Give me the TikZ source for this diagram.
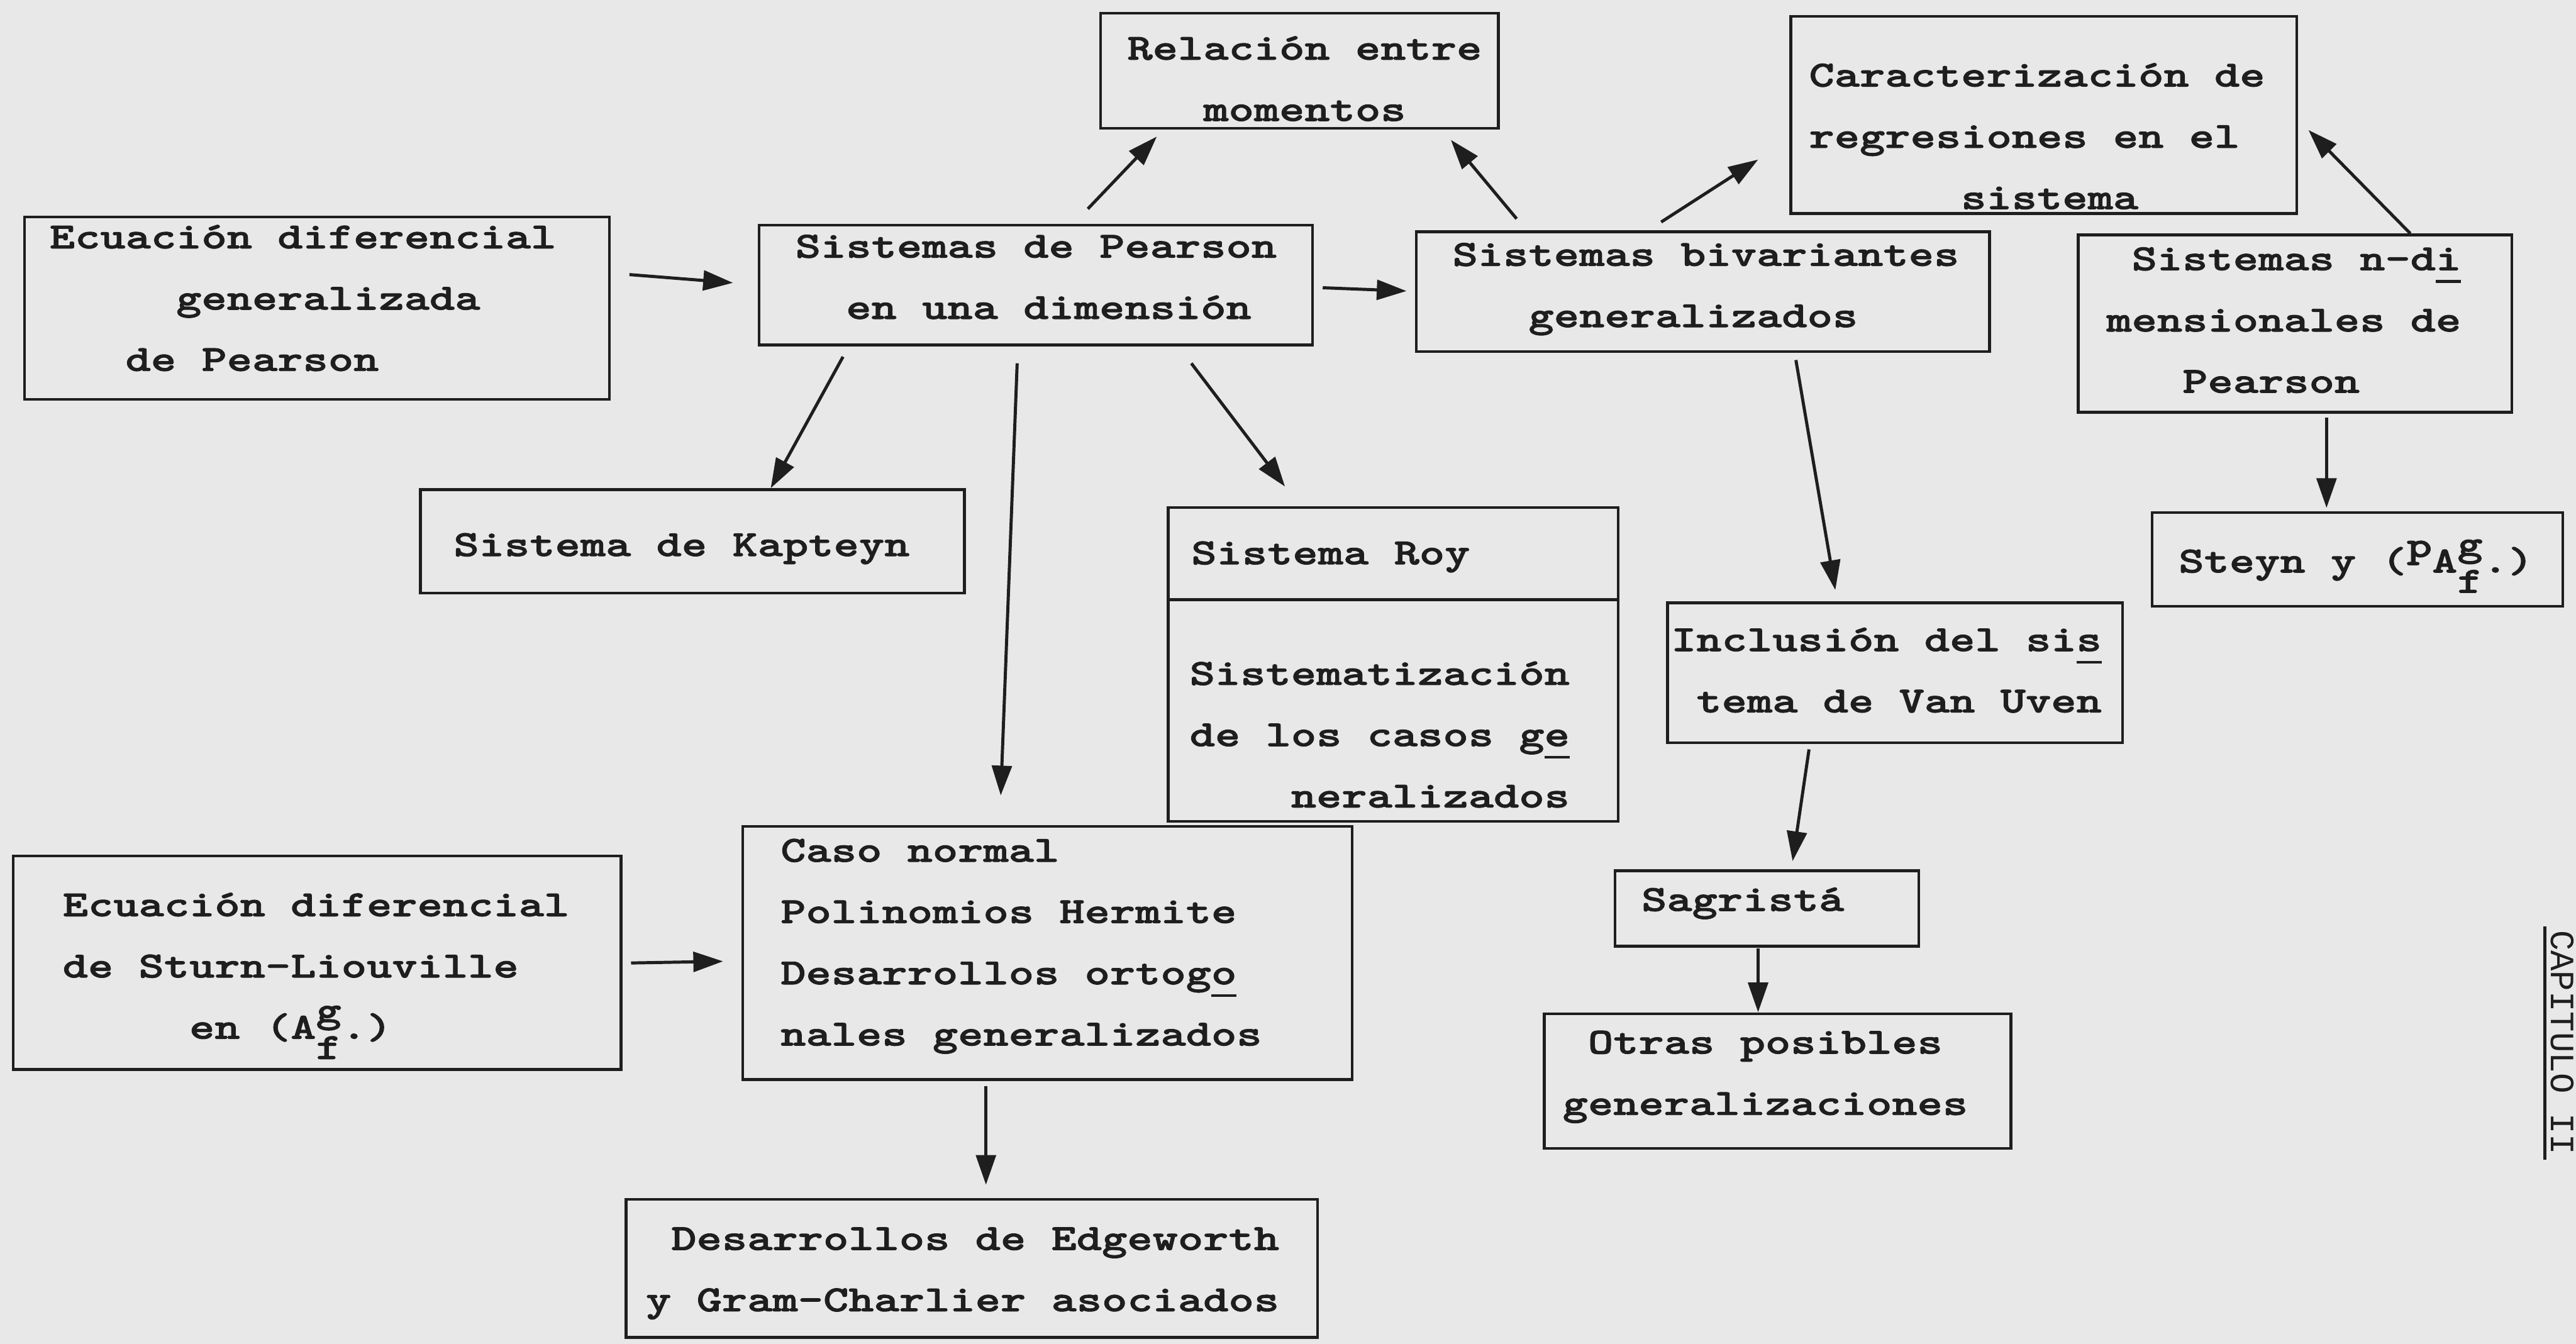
\documentclass[tikz,border=0pt]{standalone}
\usepackage{fontspec}
\usetikzlibrary{arrows.meta,fit}
\newfontfamily\tw{lmmonolt10-bold.otf}[FakeStretch=1.31,FakeBold=1.6]
\newfontfamily\capfont{Liberation Mono}
\newcommand\twsize{\tw\fontsize{26pt}{43.25pt}\selectfont}
\newlength\cw
\settowidth\cw{\twsize x}
\newcommand\ind[1]{\hspace*{#1\cw}}
\newcommand\ulc[1]{\rlap{\rule[-0.34em]{\cw}{0.07em}}#1}
\newcommand\supc[1]{\raisebox{0.42em}[0pt][0pt]{#1}}
\newcommand\gfs{\rlap{\raisebox{0.45em}[0pt][0pt]{g}}\raisebox{-0.55em}[0pt][0pt]{f}}
\definecolor{paper}{RGB}{232,232,232}
\definecolor{ink}{RGB}{30,30,30}
\begin{document}
\begin{tikzpicture}[x=0.040753cm,y=-0.040753cm,
  box/.style={draw=ink, line width=2pt, inner sep=0pt, rectangle},
  txt/.style={font=\twsize, text=ink, align=left, inner sep=0pt, anchor=west},
  arr/.style={draw=ink, line width=2.2pt, -{Triangle[length=21pt,width=14pt]}}]
\path[use as bounding box, fill=paper] (0,0) rectangle (1568,818);

% boxes
\node[box, fit={(670,8) (912,78)}] (rel) {};
\node[box, fit={(1090,10) (1398,130)}] (car) {};
\node[box, fit={(15,132) (371,243)}] (ecg) {};
\node[box, fit={(462,137) (799,210)}] (pear) {};
\node[box, fit={(862,141) (1211,214)}] (biv) {};
\node[box, fit={(1265,143) (1529,251)}] (ndim) {};
\node[box, fit={(256,298) (587,361)}] (kap) {};
\node[box, fit={(711,309) (985,365)}] (royA) {};
\node[box, fit={(711,365) (985,500)}] (royB) {};
\node[box, fit={(1015,367) (1292,452)}] (inc) {};
\node[box, fit={(1310,312) (1560,369)}] (stey) {};
\node[box, fit={(8,521) (378,651)}] (stu) {};
\node[box, fit={(452,503) (823,657)}] (caso) {};
\node[box, fit={(983,530) (1168,576)}] (sag) {};
\node[box, fit={(940,617) (1224,699)}] (otr) {};
\node[box, fit={(381,730) (802,814)}] (des) {};

% texts
\node[txt] (rel-t) at (686,47.5) {\strut Relación entre\\\strut\ind{3}momentos};
\node[txt] (car-t) at (1101,82.5) {\strut Caracterización de\\\strut regresiones en el\\\strut\ind{6}sistema};
\node[txt] (ecg-t) at (30,181) {\strut Ecuación diferencial\\\strut\ind{5}generalizada\\\strut\ind{3}de Pearson};
\node[txt] (pear-t) at (484,168) {\strut Sistemas de Pearson\\\strut\ind{2}en una dimensión};
\node[txt] (biv-t) at (884,173) {\strut Sistemas bivariantes\\\strut\ind{3}generalizados};
\node[txt] (ndim-t) at (1282,194.3) {\strut\ind{1}Sistemas n-d\ulc{i}\\\strut mensionales de\\\strut\ind{3}Pearson};
\node[txt] (kap-t) at (276,331) {\strut Sistema de Kapteyn};
\node[txt] (royA-t) at (725,336) {\strut Sistema Roy};
\node[txt] (royB-t) at (724,446.7) {\strut Sistematización\\\strut de los casos g\ulc{e}\\\strut\ind{4}neralizados};
\node[txt] (inc-t) at (1017,407.5) {\strut Inclusión del si\ulc{s}\\\strut\ind{1}tema de Van Uven};
\node[txt] (stey-t) at (1326,341) {\strut Steyn y (\supc{p}A\gfs.)};
\node[txt] (stu-t) at (38,587.5) {\strut Ecuación diferencial\\\strut de Sturn-Liouville\\\strut\ind{5}en (A\gfs.)};
\node[txt] (caso-t) at (475,573) {\strut Caso normal\\\strut Polinomios Hermite\\\strut Desarrollos ortog\ulc{o}\\\strut nales generalizados};
\node[txt] (sag-t) at (999,547) {\strut Sagristá};
\node[txt] (otr-t) at (951,652.5) {\strut\ind{1}Otras posibles\\\strut generalizaciones};
\node[txt] (des-t) at (393,772) {\strut\ind{1}Desarrollos de Edgeworth\\\strut y Gram-Charlier asociados};

% side heading
\node[font=\capfont\fontsize{24pt}{24pt}\selectfont, text=ink, rotate=-90, anchor=base west, inner sep=0pt] (cap) at (1553,566) {CAPITULO II};
\draw[ink, line width=2pt] ([shift={(-4,-2)}]cap.base west) -- ([shift={(-4,3)}]cap.base east);

% connectors
\draw[arr] ([shift={(369,36)}]ecg.north west) -- ([shift={(-15,36)}]pear.north west);
\draw[arr] ([shift={(201,-9)}]pear.north west) -- ([shift={(35,76)}]rel.north west);
\draw[arr] ([shift={(62,-7)}]biv.north west) -- ([shift={(214,78)}]rel.north west);
\draw[arr] ([shift={(150,-5)}]biv.north west) -- ([shift={(-19,88)}]car.north west);
\draw[arr] ([shift={(203,0)}]ndim.north west) -- ([shift={(316,70)}]car.north west);
\draw[arr] ([shift={(344,39)}]pear.north west) -- ([shift={(-5,37)}]biv.north west);
\draw[arr] ([shift={(52,81)}]pear.north west) -- ([shift={(214,0)}]kap.north west);
\draw[arr] ([shift={(158,85)}]pear.north west) -- ([shift={(158,-18)}]caso.north west);
\draw[arr] ([shift={(264,85)}]pear.north west) -- ([shift={(72,-12)}]royA.north west);
\draw[arr] ([shift={(232,79)}]biv.north west) -- ([shift={(103,-7)}]inc.north west);
\draw[arr] ([shift={(152,112)}]ndim.north west) -- ([shift={(107,-2)}]stey.north west);
\draw[arr] ([shift={(87,90)}]inc.north west) -- ([shift={(109,-5)}]sag.north west);
\draw[arr] ([shift={(88,48)}]sag.north west) -- ([shift={(131,0)}]otr.north west);
\draw[arr] ([shift={(377,66)}]stu.north west) -- ([shift={(-11,83)}]caso.north west);
\draw[arr] ([shift={(149,159)}]caso.north west) -- ([shift={(220,-8)}]des.north west);
\end{tikzpicture}
\end{document}
